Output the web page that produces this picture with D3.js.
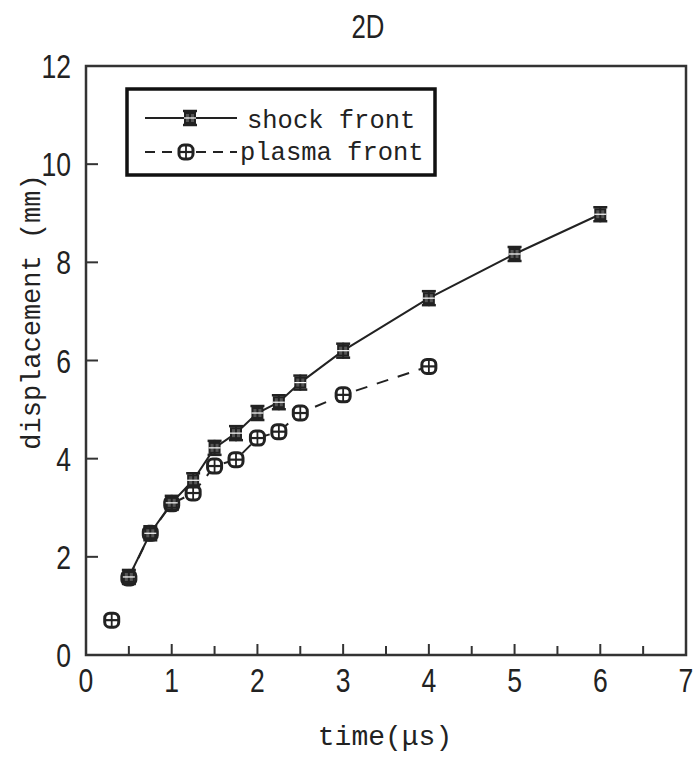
<!DOCTYPE html>
<html>
<head>
<meta charset="utf-8">
<script src="https://cdn.jsdelivr.net/npm/d3@7/dist/d3.min.js"></script>
<style>
    body { margin: 0; background: #fff; }
</style>
</head>
<body>
<script>
    // time (us) and displacement (mm)
    var shockTime = [0.5, 0.75, 1.0, 1.25, 1.5, 1.75, 2.0, 2.25, 2.5, 3.0, 4.0, 5.0, 6.0];
    var shockDisp = [1.59, 2.48, 3.1, 3.56, 4.22, 4.52, 4.93, 5.15, 5.55, 6.2, 7.27, 8.17, 8.98];
    var plasmaTime = [0.3, 0.5, 0.75, 1.0, 1.25, 1.5, 1.75, 2.0, 2.25, 2.5, 3.0, 4.0];
    var plasmaDisp = [0.71, 1.57, 2.48, 3.08, 3.3, 3.85, 3.98, 4.42, 4.55, 4.93, 5.3, 5.88];
    var xTicks = [0, 1, 2, 3, 4, 5, 6, 7];
    var xMinor = [0.5, 1.5, 2.5, 3.5, 4.5, 5.5, 6.5];
    var yTicks = [0, 2, 4, 6, 8, 10, 12];
    var seriesNames = ["shock front", "plasma front"];

    var W = 695, H = 758;
    var plotL = 86, plotR = 686, plotT = 66, plotB = 655;
    var ink = "#222";
    var numFont = "'Liberation Sans', Arial, sans-serif";
    var monoFont = "'Liberation Mono', 'DejaVu Sans Mono', monospace";
    var squeeze = 0.78;

    var svg = d3.select("body").append("svg")
        .attr("width", W)
        .attr("height", H);

    var x = d3.scaleLinear().domain([0, 7]).range([plotL, plotR]);
    var y = d3.scaleLinear().domain([0, 12]).range([plotB, plotT]);

    // frame
    svg.append("rect")
        .attr("x", plotL).attr("y", plotT)
        .attr("width", plotR - plotL).attr("height", plotB - plotT)
        .attr("fill", "none")
        .attr("stroke", "#333")
        .attr("stroke-width", 2.5);

    // inward ticks
    svg.append("g").selectAll("line")
        .data(xTicks.concat(xMinor))
        .enter().append("line")
        .attr("x1", function(d){ return x(d); })
        .attr("x2", function(d){ return x(d); })
        .attr("y1", plotB)
        .attr("y2", function(d){ return plotB - (d % 1 == 0 ? 11 : 9); })
        .attr("stroke", "#333")
        .attr("stroke-width", 2);

    svg.append("g").selectAll("line")
        .data(yTicks)
        .enter().append("line")
        .attr("x1", plotL)
        .attr("x2", plotL + 12)
        .attr("y1", function(d){ return y(d); })
        .attr("y2", function(d){ return y(d); })
        .attr("stroke", "#333")
        .attr("stroke-width", 2);

    // tick labels (narrow numerals)
    svg.append("g").selectAll("text")
        .data(xTicks)
        .enter().append("text")
        .attr("transform", function(d){ return "translate(" + x(d) + ",692) scale(" + squeeze + ",1)"; })
        .attr("text-anchor", "middle")
        .style("font-family", numFont)
        .style("font-size", "34px")
        .attr("fill", ink)
        .text(function(d){ return d; });

    svg.append("g").selectAll("text")
        .data(yTicks)
        .enter().append("text")
        .attr("transform", function(d){ return "translate(71," + (y(d) + 12) + ") scale(" + squeeze + ",1)"; })
        .attr("text-anchor", "end")
        .style("font-family", numFont)
        .style("font-size", "34px")
        .attr("fill", ink)
        .text(function(d){ return d; });

    // titles
    svg.append("text")
        .attr("transform", "translate(368,38) scale(" + squeeze + ",1)")
        .attr("text-anchor", "middle")
        .style("font-family", numFont)
        .style("font-size", "33px")
        .attr("fill", ink)
        .text("2D");

    svg.append("text")
        .attr("x", 385).attr("y", 745)
        .attr("text-anchor", "middle")
        .style("font-family", monoFont)
        .style("font-size", "28px")
        .attr("fill", ink)
        .text("time(μs)");

    svg.append("text")
        .attr("transform", "translate(40,312) rotate(-90)")
        .attr("text-anchor", "middle")
        .style("font-family", monoFont)
        .style("font-size", "27px")
        .attr("fill", ink)
        .text("displacement (mm)");

    var line = d3.line()
        .x(function(d){ return x(d[0]); })
        .y(function(d){ return y(d[1]); });

    var shock = d3.zip(shockTime, shockDisp);
    var plasma = d3.zip(plasmaTime, plasmaDisp);

    // the dashed line is not drawn to the earliest plasma point in the figure
    svg.append("path")
        .datum(plasma.slice(1))
        .attr("d", line)
        .attr("fill", "none")
        .attr("stroke", ink)
        .attr("stroke-width", 2)
        .attr("stroke-dasharray", "12 10");

    svg.append("path")
        .datum(shock)
        .attr("d", line)
        .attr("fill", "none")
        .attr("stroke", ink)
        .attr("stroke-width", 2);

    function shockMarker(g) {
        g.append("rect").attr("x", -5).attr("y", -5).attr("width", 10).attr("height", 10)
            .attr("fill", "#555").attr("stroke", ink).attr("stroke-width", 2);
        g.append("line").attr("x1", -7).attr("x2", 7).attr("y1", -7).attr("y2", -7)
            .attr("stroke", ink).attr("stroke-width", 2.5);
        g.append("line").attr("x1", -7).attr("x2", 7).attr("y1", 7).attr("y2", 7)
            .attr("stroke", ink).attr("stroke-width", 2.5);
        g.append("line").attr("x1", 0).attr("x2", 0).attr("y1", -8).attr("y2", 8)
            .attr("stroke", ink).attr("stroke-width", 2);
        g.append("line").attr("x1", -6).attr("x2", 6).attr("y1", 0).attr("y2", 0)
            .attr("stroke", "#fff").attr("stroke-width", 1.2);
    }

    function plasmaMarker(g) {
        g.append("rect").attr("x", -7).attr("y", -7).attr("width", 14).attr("height", 14)
            .attr("rx", 5).attr("ry", 5)
            .attr("fill", "#fff").attr("stroke", ink).attr("stroke-width", 3);
        g.append("line").attr("x1", -7).attr("x2", 7).attr("y1", 0).attr("y2", 0)
            .attr("stroke", ink).attr("stroke-width", 2.2);
        g.append("line").attr("x1", 0).attr("x2", 0).attr("y1", -7).attr("y2", 7)
            .attr("stroke", ink).attr("stroke-width", 1.8);
    }

    svg.append("g").selectAll("g")
        .data(plasma)
        .enter().append("g")
        .attr("transform", function(d){ return "translate(" + x(d[0]) + "," + y(d[1]) + ")"; })
        .each(function(){ plasmaMarker(d3.select(this)); });

    svg.append("g").selectAll("g")
        .data(shock)
        .enter().append("g")
        .attr("transform", function(d){ return "translate(" + x(d[0]) + "," + y(d[1]) + ")"; })
        .each(function(){ shockMarker(d3.select(this)); });

    // legend
    var leg = svg.append("g");
    leg.append("rect")
        .attr("x", 127).attr("y", 89)
        .attr("width", 308).attr("height", 86)
        .attr("fill", "#fff")
        .attr("stroke", "#111")
        .attr("stroke-width", 3.5);

    leg.append("line")
        .attr("x1", 145).attr("x2", 237).attr("y1", 118).attr("y2", 118)
        .attr("stroke", ink).attr("stroke-width", 2);
    shockMarker(leg.append("g").attr("transform", "translate(190,118)"));
    leg.append("text")
        .attr("x", 247).attr("y", 128)
        .style("font-family", monoFont)
        .style("font-size", "25.5px")
        .attr("fill", ink)
        .text(seriesNames[0]);

    leg.append("line")
        .attr("x1", 145).attr("x2", 237).attr("y1", 152).attr("y2", 152)
        .attr("stroke", ink).attr("stroke-width", 2)
        .attr("stroke-dasharray", "10 7");
    plasmaMarker(leg.append("g").attr("transform", "translate(186,152)"));
    leg.append("text")
        .attr("x", 240).attr("y", 160)
        .style("font-family", monoFont)
        .style("font-size", "25.5px")
        .attr("fill", ink)
        .text(seriesNames[1]);
</script>
</body>
</html>
